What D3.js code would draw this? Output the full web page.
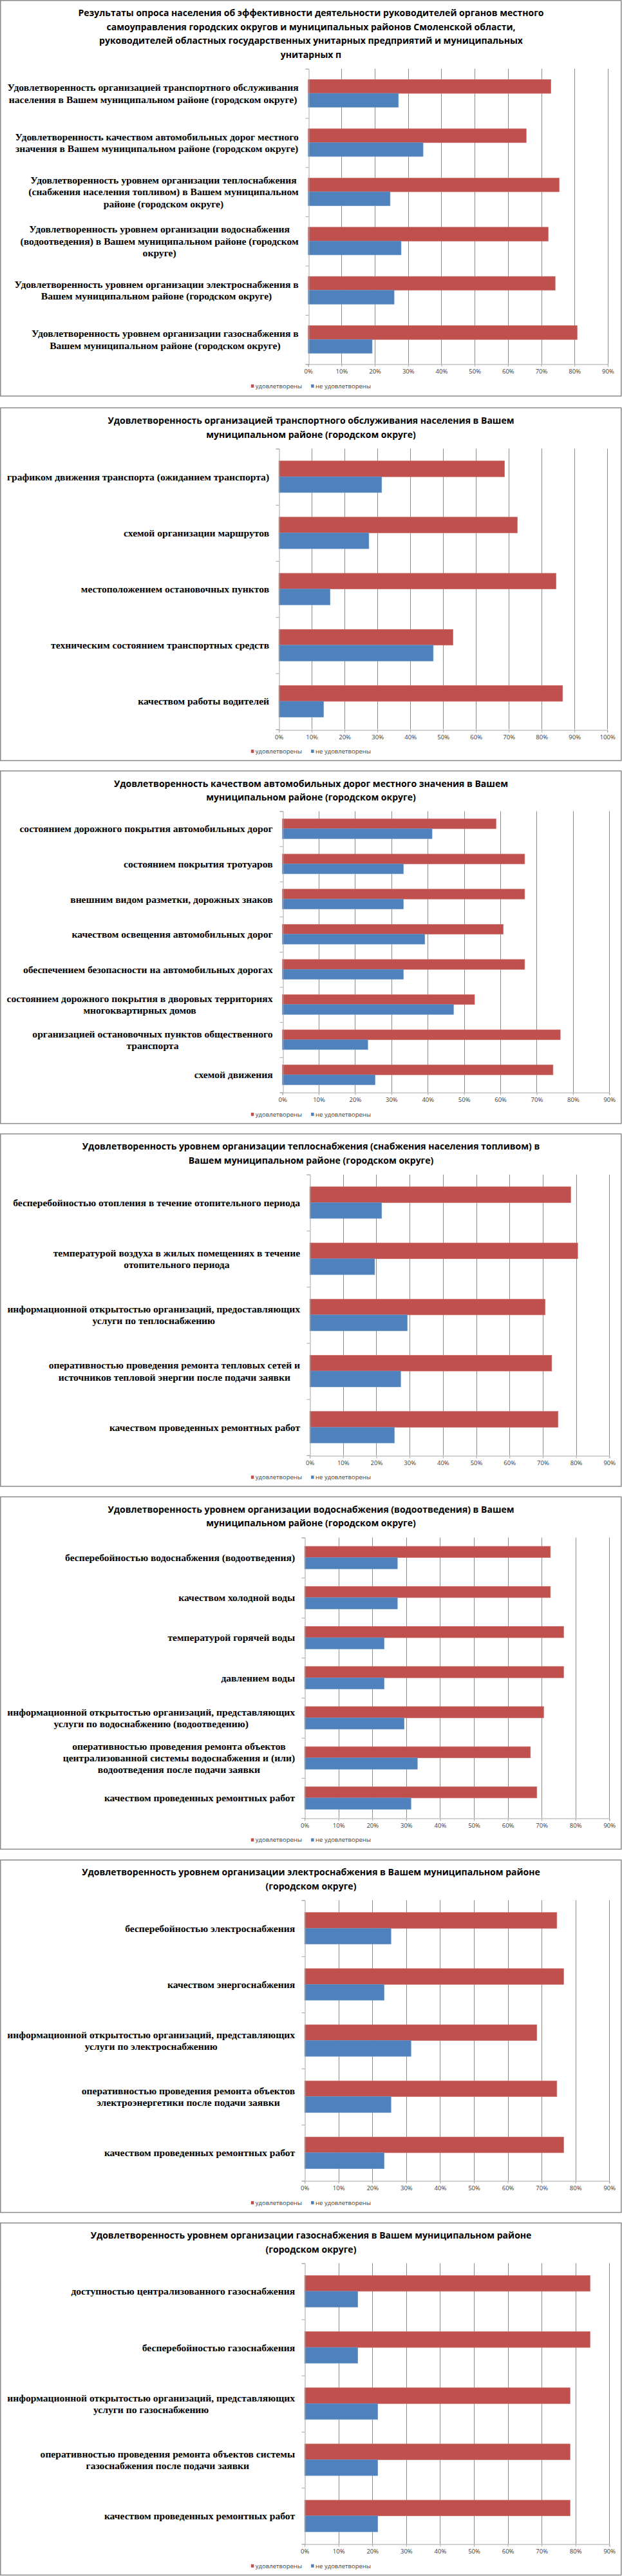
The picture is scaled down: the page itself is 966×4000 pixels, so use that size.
<!DOCTYPE html>
<html><head><meta charset="utf-8">
<script src="https://cdn.jsdelivr.net/npm/d3@7"></script>
<style>body{margin:0;background:#fff} svg{display:block}</style>
</head><body>
<svg id="c" width="966" height="4000"></svg>
<script>
// ---------------- DATA ----------------
const seriesNames = ["удовлетворены", "не удовлетворены"];

const titles1 = ["Результаты опроса населения об эффективности деятельности руководителей органов местного",
  "самоуправления городских округов и муниципальных районов Смоленской области,",
  "руководителей областных государственных унитарных предприятий и муниципальных",
  "унитарных п"];
const categories1 = [
  "Удовлетворенность организацией транспортного обслуживания\nнаселения в Вашем муниципальном районе (городском округе)",
  "Удовлетворенность качеством автомобильных дорог местного\nзначения в Вашем муниципальном районе (городском округе)",
  "Удовлетворенность уровнем организации теплоснабжения\n(снабжения населения топливом) в Вашем муниципальном\nрайоне (городском округе)",
  "Удовлетворенность уровнем организации водоснабжения\n(водоотведения) в Вашем муниципальном районе (городском\nокруге)",
  "Удовлетворенность уровнем организации электроснабжения в\nВашем муниципальном районе (городском округе)",
  "Удовлетворенность уровнем организации газоснабжения в\nВашем муниципальном районе (городском округе)"];
const satisfied1 = [72.9, 65.5, 75.4, 72.1, 74.2, 80.8];
const unsatisfied1 = [27.1, 34.5, 24.6, 27.9, 25.8, 19.2];

const titles2 = ["Удовлетворенность организацией транспортного обслуживания населения в Вашем",
  "муниципальном районе (городском округе)"];
const categories2 = ["графиком движения транспорта (ожиданием транспорта)", "схемой организации маршрутов",
  "местоположением остановочных пунктов", "техническим состоянием транспортных средств", "качеством работы водителей"];
const satisfied2 = [68.7, 72.6, 84.4, 53.0, 86.4];
const unsatisfied2 = [31.3, 27.4, 15.6, 47.0, 13.6];

const titles3 = ["Удовлетворенность качеством автомобильных дорог местного значения в Вашем",
  "муниципальном районе (городском округе)"];
const categories3 = ["состоянием дорожного покрытия автомобильных дорог", "состоянием покрытия тротуаров",
  "внешним видом разметки, дорожных знаков", "качеством освещения автомобильных дорог",
  "обеспечением безопасности на автомобильных дорогах",
  "состоянием дорожного покрытия в дворовых территориях\nмногоквартирных домов",
  "организацией остановочных пунктов общественного\nтранспорта", "схемой движения"];
const satisfied3 = [58.8, 66.7, 66.7, 60.8, 66.7, 52.9, 76.5, 74.5];
const unsatisfied3 = [41.2, 33.3, 33.3, 39.2, 33.3, 47.1, 23.5, 25.5];

const titles4 = ["Удовлетворенность уровнем организации теплоснабжения (снабжения населения топливом) в",
  "Вашем муниципальном районе (городском округе)"];
const categories4 = ["бесперебойностью отопления в течение отопительного периода",
  "температурой воздуха в жилых помещениях в течение\nотопительного периода",
  "информационной открытостью организаций, предоставляющих\nуслуги по теплоснабжению",
  "оперативностью проведения ремонта тепловых сетей и\nисточников тепловой энергии после подачи заявки",
  "качеством проведенных ремонтных работ"];
const satisfied4 = [78.4, 80.5, 70.7, 72.7, 74.6];
const unsatisfied4 = [21.6, 19.5, 29.3, 27.3, 25.4];

const titles5 = ["Удовлетворенность уровнем организации водоснабжения (водоотведения) в Вашем",
  "муниципальном районе (городском округе)"];
const categories5 = ["бесперебойностью водоснабжения (водоотведения)", "качеством холодной воды",
  "температурой горячей воды", "давлением воды",
  "информационной открытостью организаций, представляющих\nуслуги по водоснабжению (водоотведению)",
  "оперативностью проведения ремонта объектов\nцентрализованной системы водоснабжения и (или)\nводоотведения после подачи заявки",
  "качеством проведенных ремонтных работ"];
const satisfied5 = [72.6, 72.6, 76.5, 76.5, 70.6, 66.7, 68.6];
const unsatisfied5 = [27.4, 27.4, 23.5, 23.5, 29.4, 33.3, 31.4];

const titles6 = ["Удовлетворенность уровнем организации электроснабжения в Вашем муниципальном районе",
  "(городском округе)"];
const categories6 = ["бесперебойностью электроснабжения", "качеством энергоснабжения",
  "информационной открытостью организаций, представляющих\nуслуги по электроснабжению",
  "оперативностью проведения ремонта объектов\nэлектроэнергетики после подачи заявки",
  "качеством проведенных ремонтных работ"];
const satisfied6 = [74.5, 76.5, 68.6, 74.5, 76.5];
const unsatisfied6 = [25.5, 23.5, 31.4, 25.5, 23.5];

const titles7 = ["Удовлетворенность уровнем организации газоснабжения в Вашем муниципальном районе",
  "(городском округе)"];
const categories7 = ["доступностью централизованного газоснабжения", "бесперебойностью газоснабжения",
  "информационной открытостью организаций, представляющих\nуслуги по газоснабжению",
  "оперативностью проведения ремонта объектов системы\nгазоснабжения после подачи заявки",
  "качеством проведенных ремонтных работ"];
const satisfied7 = [84.3, 84.3, 78.4, 78.4, 78.4];
const unsatisfied7 = [15.7, 15.7, 21.6, 21.6, 21.6];

const axisMax = [90, 100, 90, 90, 90, 90, 90];

const charts = [
  {titles: titles1, cats: categories1, s: satisfied1, u: unsatisfied1},
  {titles: titles2, cats: categories2, s: satisfied2, u: unsatisfied2},
  {titles: titles3, cats: categories3, s: satisfied3, u: unsatisfied3},
  {titles: titles4, cats: categories4, s: satisfied4, u: unsatisfied4},
  {titles: titles5, cats: categories5, s: satisfied5, u: unsatisfied5},
  {titles: titles6, cats: categories6, s: satisfied6, u: unsatisfied6},
  {titles: titles7, cats: categories7, s: satisfied7, u: unsatisfied7}
];

// ---------------- LAYOUT ----------------
const layout = [
  {top: 0.8,    bottom: 615,    tY: [20, 41.5, 63, 85], x0: 478.7, x1: 943.9, pt: 106.8,  pb: 565.4},
  {top: 633.3,  bottom: 1181,   tY: [653.3, 674.5],     x0: 433.1, x1: 943.2, pt: 696.7,  pb: 1132.6},
  {top: 1197.1, bottom: 1744.6, tY: [1216.8, 1237.9],   x0: 438.6, x1: 946.3, pt: 1259.6, pb: 1696.3},
  {top: 1760.7, bottom: 2308,   tY: [1779.8, 1801.6],   x0: 481.1, x1: 946.3, pt: 1823.8, pb: 2259.8},
  {top: 2324.3, bottom: 2871.4, tY: [2344.2, 2365.3],   x0: 473.1, x1: 946.3, pt: 2387.5, pb: 2823},
  {top: 2888.2, bottom: 3435.5, tY: [2907.1, 2928.6],   x0: 473.1, x1: 946.3, pt: 2950.7, pb: 3386.4},
  {top: 3451.8, bottom: 3998.5, tY: [3471, 3492.5],     x0: 473.1, x1: 946.3, pt: 3514.3, pb: 3950.3}
];
const colors = ["#C0504D", "#4F81BD"];
const strokes = ["#CB6F6C", "#6A95C8"];
const gridColor = "#8C8C8C";
const axisColor = "#A6A6A6";
const titleFont = "'Open Sans', 'Noto Sans', sans-serif";
const labelFont = "'Liberation Serif', 'DejaVu Serif', serif";
const smallFont = "'Open Sans', 'Noto Sans', sans-serif";

const svg = d3.select("#c");
svg.append("rect").attr("width", 966).attr("height", 4000).attr("fill", "#fff");

charts.forEach((ch, i) => {
  const L = layout[i];
  const g = svg.append("g");
  g.append("rect").attr("x", 0.75).attr("y", L.top).attr("width", 964).attr("height", L.bottom - L.top)
    .attr("fill", "#fff").attr("stroke", "#8a8a8a").attr("stroke-width", 1.5);

  ch.titles.forEach((t, k) => {
    g.append("text").attr("x", 483).attr("y", L.tY[k]).attr("dy", "0.36em")
      .attr("text-anchor", "middle").attr("font-family", titleFont).attr("font-weight", "bold")
      .attr("font-size", 14).attr("fill", "#000").text(t);
  });

  const x = d3.scaleLinear().domain([0, axisMax[i]]).range([L.x0, L.x1]);
  const n = ch.cats.length;
  const y = d3.scaleBand().domain(d3.range(n)).range([L.pt, L.pb]).paddingInner(0).paddingOuter(0);
  const yl = d3.scaleLinear().domain([0, n]).range([L.pt, L.pb]);
  const tickVals = d3.range(0, axisMax[i] + 1, 10);

  // gridlines
  g.selectAll(".grid").data(tickVals.slice(1)).join("line")
    .attr("x1", d => Math.round(x(d)) + 0.5).attr("x2", d => Math.round(x(d)) + 0.5)
    .attr("y1", L.pt).attr("y2", L.pb).attr("stroke", gridColor).attr("stroke-width", 1);

  // bars
  const bw = y.bandwidth();
  const bh = bw / 3.55;
  const pad = (bw - 2 * bh) / 2;
  [ch.s, ch.u].forEach((vals, si) => {
    g.selectAll(".bar" + si).data(vals).join("rect")
      .attr("x", x(0)).attr("y", (d, j) => y(j) + pad + si * bh)
      .attr("width", d => x(d) - x(0)).attr("height", bh)
      .attr("fill", colors[si]).attr("stroke", strokes[si]).attr("stroke-width", 0.7);
  });

  // x axis
  const xa = g.append("g").attr("transform", `translate(0,${Math.round(L.pb) + 0.5})`)
    .call(d3.axisBottom(x).tickValues(tickVals).tickFormat(d => d + "%").tickSize(4).tickPadding(4));
  xa.select(".domain").attr("stroke", axisColor);
  xa.selectAll(".tick line").attr("stroke", axisColor);
  xa.selectAll(".tick text").attr("font-family", smallFont).attr("font-size", 9.5).attr("fill", "#404040");

  // y axis (category boundaries)
  const ya = g.append("g").attr("transform", `translate(${Math.round(L.x0) + 0.5},0)`)
    .call(d3.axisLeft(yl).tickValues(d3.range(n + 1)).tickFormat("").tickSize(5));
  ya.select(".domain").attr("stroke", axisColor);
  ya.selectAll(".tick line").attr("stroke", axisColor);

  // category labels
  const lh = 18.3;
  ch.cats.forEach((c, j) => {
    const lines = c.split("\n");
    const cy = y(j) + bw / 2;
    const texts = lines.map((ln, k) => g.append("text")
      .attr("y", cy + (k - (lines.length - 1) / 2) * lh).attr("dy", "0.35em")
      .attr("text-anchor", "middle").attr("font-family", labelFont).attr("font-weight", "bold")
      .attr("font-size", 15.6).attr("fill", "#000").text(ln));
    const maxW = d3.max(texts, t => t.node().getComputedTextLength());
    const cx = L.x0 - 15 - maxW / 2;
    texts.forEach(t => t.attr("x", cx));
  });

  // legend
  const ly = L.pb + 34;
  const lg = g.append("g");
  const items = seriesNames.map((nm, si) => {
    const it = lg.append("g");
    it.append("rect").attr("x", 0).attr("y", ly - 2.5).attr("width", 4.5).attr("height", 5).attr("fill", colors[si]);
    it.append("text").attr("x", 7).attr("y", ly).attr("dy", "0.35em")
      .attr("font-family", smallFont).attr("font-size", 9.5).attr("fill", "#404040").text(nm);
    return it;
  });
  const widths = items.map(it => it.node().getBBox().width);
  const gap = 14;
  const total = widths[0] + gap + widths[1];
  let sx = 483 - total / 2;
  items.forEach((it, k) => { it.attr("transform", `translate(${sx},0)`); sx += widths[k] + gap; });
});
</script>
</body></html>
